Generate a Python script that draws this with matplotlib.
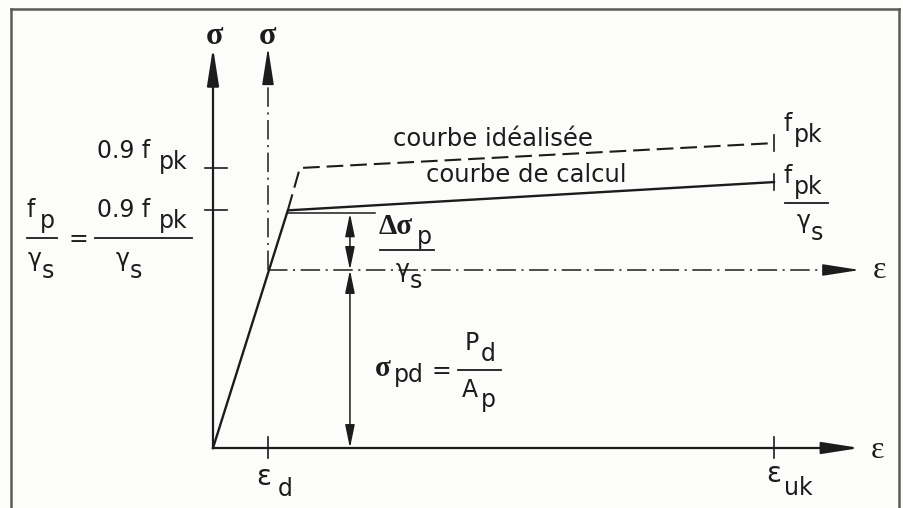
import matplotlib
matplotlib.use("Agg")
import matplotlib.pyplot as plt
from matplotlib.lines import Line2D

# --- valeurs du schéma (unités: eps_d = 1, sigma_pd = 1) ---
eps_d = 1.0
eps_uk = 10.2
eps_axis_end = 11.76
sig_axis_end = 2.25

sig_pd = 1.0                 # P_d / A_p
sig_fp_gs = 1.335            # f_p / gamma_s = 0.9 f_pk / gamma_s
sig_09fpk = 1.573            # 0.9 f_pk
sig_fpk_gs = 1.494           # f_pk / gamma_s (fin courbe de calcul)
sig_fpk = 1.713              # f_pk (fin courbe idéalisée)

calc_eps = [0.0, 1.36, eps_uk]
calc_sig = [0.0, sig_fp_gs, sig_fpk_gs]
ideal_eps = [1.36, 1.58, eps_uk]
ideal_sig = [sig_fp_gs, sig_09fpk, sig_fpk]
eps_dim = 2.49               # ligne de cote

W, H = 904, 508
INK = "#1c1c1c"
BG = "#fcfcfa"
plt.rcParams["lines.scale_dashes"] = False

fig = plt.figure(figsize=(W / 100, H / 100), dpi=100, facecolor=BG)
ax = fig.add_axes([0, 0, 1, 1])
ax.set_facecolor(BG)
ax.axis("off")
# origine en (213, 448) px ; 55 px par unité d'eps, 178 px par unité de sigma
ax.set_xlim(-213 / 55, (W - 213) / 55)
ax.set_ylim(-(H - 448) / 178, 448 / 178)

px_e = 1 / 55
px_s = 1 / 178


def fleche(tip, base, lw=1.6, L=23, Wd=3.6):
    ax.annotate("", xy=tip, xytext=base,
                arrowprops=dict(arrowstyle=f"-|>,head_length={L},head_width={Wd}",
                                mutation_scale=1, color=INK, lw=lw,
                                shrinkA=0, shrinkB=0))


# axes principaux
ax.plot([0, 0], [0, sig_axis_end - 30 * px_s], color=INK, lw=1.6)
ax.plot([0, eps_axis_end - 30 * px_e], [0, 0], color=INK, lw=1.6)
fleche((0, sig_axis_end), (0, sig_axis_end - 40 * px_s))
fleche((eps_axis_end, 0), (eps_axis_end - 40 * px_e, 0))

# axes décalés (trait mixte)
dashdot = (0, (14, 4, 1.5, 4))
ax.plot([eps_d, eps_d], [sig_pd, sig_axis_end - 30 * px_s], color=INK, lw=1.1, ls=dashdot)
ax.plot([eps_d, eps_axis_end - 30 * px_e], [sig_pd, sig_pd], color=INK, lw=1.1, ls=dashdot)
fleche((eps_d, sig_axis_end), (eps_d, sig_axis_end - 36 * px_s), lw=1.1)
fleche((eps_axis_end, sig_pd), (eps_axis_end - 36 * px_e, sig_pd), lw=1.1)

# courbes
ax.plot(calc_eps, calc_sig, color=INK, lw=1.7, solid_joinstyle="miter")
ax.plot(ideal_eps, ideal_sig, color=INK, lw=1.5, ls=(0, (12, 5)))

# barres de fin
for s in (sig_fpk, sig_fpk_gs):
    ax.plot([eps_uk, eps_uk], [s - 8 * px_s, s + 8 * px_s], color=INK, lw=1.2)

# graduations
for e in (eps_d, eps_uk):
    ax.plot([e, e], [-10 * px_s, 11 * px_s], color=INK, lw=1.2)
for s in (sig_09fpk, sig_fp_gs):
    ax.plot([-8 * px_e, 14 * px_e], [s, s], color=INK, lw=1.2)

# ligne d'attache et cotes
ax.plot([calc_eps[1], 2.95], [sig_fp_gs - 3 * px_s] * 2, color=INK, lw=1.1)
for top, bot in ((sig_fp_gs - 3 * px_s, sig_pd), (sig_pd, 0.0)):
    ax.annotate("", xy=(eps_dim, top), xytext=(eps_dim, bot),
                arrowprops=dict(arrowstyle="<|-|>,head_length=14,head_width=2.9",
                                mutation_scale=1, color=INK, lw=1.1,
                                shrinkA=0, shrinkB=0))


# --- textes (positions en pixels) ---
SANS = "DejaVu Sans"
SERIF = "Liberation Serif"
FS = 17


def txt(x, y, s, size=FS, family=SANS, weight="normal", ha="left", va="baseline"):
    fig.text(x / W, 1 - y / H, s, fontsize=size, family=family, weight=weight,
             ha=ha, va=va, color=INK)


def barre(x0, x1, y):
    fig.add_artist(Line2D([x0 / W, x1 / W], [1 - y / H] * 2, color=INK, lw=1.3))


# cadre
for xs, ys in (([11, 11], [9, H + 5]), ([11, 899], [9, 9]), ([899, 899], [9, H + 5])):
    fig.add_artist(Line2D([x / W for x in xs], [1 - y / H for y in ys],
                          color="#5a5a5a", lw=1.8))

txt(215, 36, "σ", 23, SERIF, "bold", ha="center", va="center")
txt(268, 36, "σ", 23, SERIF, "bold", ha="center", va="center")
txt(878, 450, "ε", 23, SERIF, ha="center", va="center")
txt(880, 271, "ε", 23, SERIF, ha="center", va="center")

txt(256, 485, "ε", 20)
txt(278, 496, "d")
txt(766, 482, "ε", 20)
txt(784, 495, "uk")

# gauche
txt(97, 158, "0.9 f")
txt(159, 169, "pk")
txt(27, 217, "f")
txt(40, 228, "p")
barre(27, 57, 238)
txt(28, 266, "γ")
txt(42, 278, "s")
txt(78, 239, "=", ha="center", va="center")
txt(97, 217, "0.9 f")
txt(159, 228, "pk")
barre(95, 192, 238)
txt(116, 266, "γ")
txt(130, 278, "s")

# droite
txt(784, 131, "f")
txt(794, 142, "pk")
txt(784, 183, "f")
txt(794, 194, "pk")
barre(785, 828, 203)
txt(797, 228, "γ")
txt(811, 240, "s")

# courbes
txt(393, 146, "courbe idéalisée", 17.5)
txt(426, 182, "courbe de calcul", 17.5)

# delta sigma
txt(379, 234, "Δσ", 21, SERIF, "bold")
txt(417, 244, "p")
barre(380, 434, 250)
txt(396, 277, "γ")
txt(410, 288, "s")

# sigma_pd
txt(375, 376, "σ", 21, SERIF, "bold")
txt(394, 382, "pd")
txt(441, 371, "=", ha="center", va="center")
txt(465, 350, "P")
txt(481, 361, "d")
barre(458, 501, 370)
txt(462, 397, "A")
txt(481, 407, "p")

fig.savefig("out.png", dpi=100, facecolor=BG)
